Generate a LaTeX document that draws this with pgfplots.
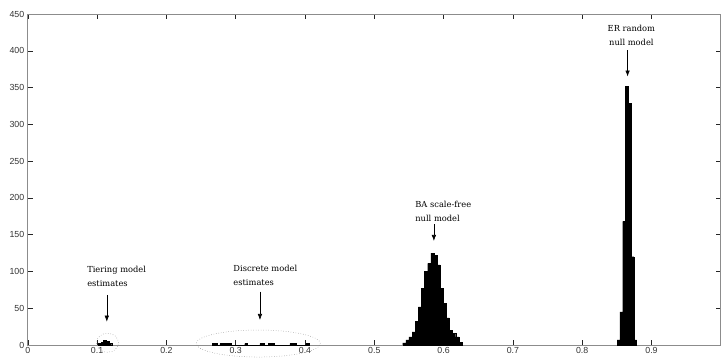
\documentclass[border=0pt]{standalone}
\usepackage{pgfplots}
\pgfplotsset{compat=1.18}
\usetikzlibrary{arrows.meta}
\usepackage{fontspec}
\setmainfont{Liberation Sans}
\newfontfamily\annfont{DejaVu Serif}

\tikzset{ann/.style={font=\annfont\fontsize{8.3}{14}\selectfont, align=left, inner sep=0pt},
         annarrow/.style={-{Latex[length=6pt,width=4.5pt]}, line width=0.6pt}}

\begin{document}
\begin{tikzpicture}
\begin{axis}[
  at={(0,0)}, anchor=south west,
  width=693pt, height=331pt, scale only axis,
  xmin=0, xmax=1, ymin=0, ymax=450,
  xtick={0,0.1,...,0.9},
  ytick={0,50,...,450},
  tick align=inside,
  major tick length=5pt,
  tick style={black!85, line width=0.5pt},
  axis line style={black!45, line width=0.8pt},
  tick label style={font=\fontsize{8.8}{10}\selectfont, text=black!80},
  /pgf/number format/assume math mode=true,
  /pgf/number format/fixed,
  xticklabel style={yshift=1pt},
  clip=false,
]
% Tiering model estimates
\addplot[const plot, fill=black, draw=black, line width=0.3pt] coordinates {
  (0.102,2) (0.106,4) (0.109,6) (0.113,5) (0.117,2) (0.121,2)
} \closedcycle;

% Discrete model estimates
\addplot[const plot, fill=black, draw=black, line width=0.3pt] coordinates {
  (0.266,2) (0.273,0) (0.277,2) (0.282,0) (0.284,2) (0.294,0)
  (0.313,2) (0.317,0) (0.335,2) (0.341,0) (0.347,2) (0.355,0)
  (0.378,2) (0.387,0) (0.401,2) (0.406,2)
} \closedcycle;

% BA scale-free null model
\addplot[const plot, fill=black, draw=black, line width=0.3pt] coordinates {
  (0.5410,3) (0.5455,7) (0.5500,11) (0.5545,18) (0.5590,32)
  (0.5635,52) (0.5680,77) (0.5725,100) (0.5770,111) (0.5815,125)
  (0.5860,122) (0.5905,109) (0.5950,77) (0.5995,57) (0.6040,37)
  (0.6085,20) (0.6130,16) (0.6175,11) (0.6220,4) (0.6265,4)
} \closedcycle;

% ER random null model
\addplot[const plot, fill=black, draw=black, line width=0.3pt] coordinates {
  (0.8505,7) (0.8545,45) (0.8585,168) (0.8625,352) (0.8665,329)
  (0.8705,120) (0.8745,7) (0.8785,7)
} \closedcycle;

% dotted outlines
\draw[gray, dotted, line width=0.5pt] (axis cs:0.115,3) ellipse [x radius=11pt, y radius=9.5pt];
\draw[gray, dotted, line width=0.5pt] (axis cs:0.3326,2) ellipse [x radius=62pt, y radius=13.5pt];

% annotations
\node[ann, anchor=west] at (axis cs:0.0855,93) {Tiering model\\estimates};
\draw[annarrow] (axis cs:0.114,68) -- (axis cs:0.114,31.7);

\node[ann, anchor=west] at (axis cs:0.2965,95) {Discrete model\\estimates};
\draw[annarrow] (axis cs:0.335,72.5) -- (axis cs:0.335,34);

\node[ann, anchor=west] at (axis cs:0.559,181.5) {BA scale-free\\null model};
\draw[annarrow] (axis cs:0.586,164.5) -- (axis cs:0.586,141.4);

\node[ann, align=center] at (axis cs:0.871,421) {ER random\\null model};
\draw[annarrow] (axis cs:0.8655,401) -- (axis cs:0.8655,365);
\end{axis}
\pgfresetboundingbox
\path[use as bounding box] (-27.8pt,-12pt) rectangle (693.2pt,345pt);
\end{tikzpicture}
\end{document}
